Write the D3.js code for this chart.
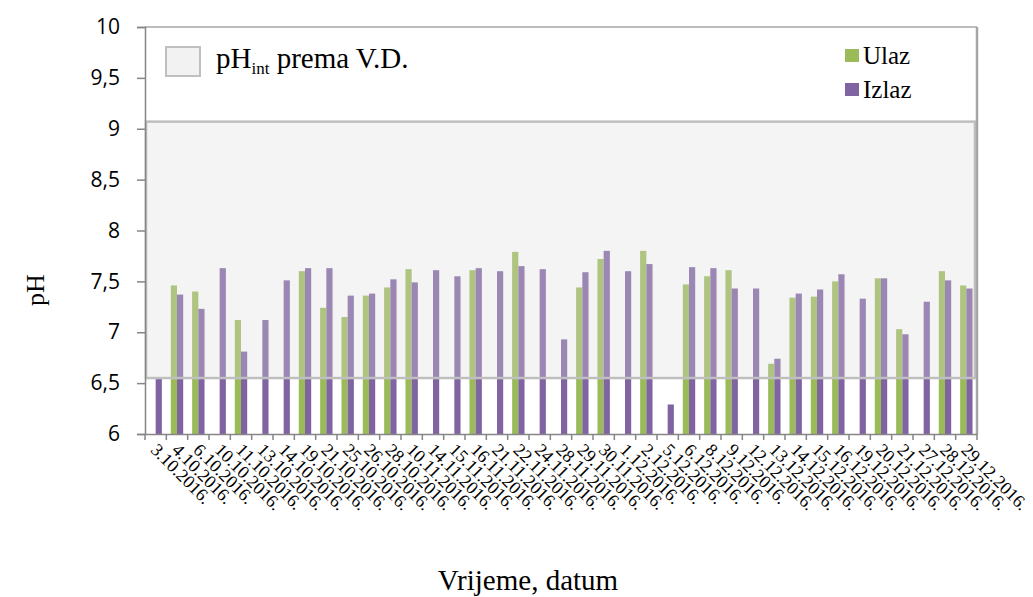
<!DOCTYPE html>
<html><head><meta charset="utf-8">
<script src="https://cdn.jsdelivr.net/npm/d3@7/dist/d3.min.js"></script>
<style>body{margin:0;background:#fff}</style>
</head><body><svg id="c" width="1033" height="597"></svg>
<script>
const categories = ["3.10.2016.","4.10.2016.","6.10.2016.","10.10.2016.","11.10.2016.","13.10.2016.","14.10.2016.","19.10.2016.","21.10.2016.","25.10.2016.","26.10.2016.","28.10.2016.","10.11.2016.","14.11.2016.","15.11.2016.","16.11.2016.","21.11.2016.","22.11.2016.","24.11.2016.","28.11.2016.","29.11.2016.","30.11.2016.","1.12.2016.","2.12.2016.","5.12.2016.","6.12.2016.","8.12.2016.","9.12.2016.","12.12.2016.","13.12.2016.","14.12.2016.","15.12.2016.","16.12.2016.","19.12.2016.","20.12.2016.","21.12.2016.","27.12.2016.","28.12.2016.","29.12.2016."];
const ulaz = [null,7.46,7.40,null,7.12,null,null,7.60,7.24,7.15,7.36,7.44,7.62,null,null,7.61,null,7.79,null,null,7.44,7.72,null,7.80,null,7.47,7.55,7.61,null,6.69,7.34,7.35,7.50,null,7.53,7.03,null,7.60,7.46];
const izlaz = [6.56,7.37,7.23,7.63,6.81,7.12,7.51,7.63,7.63,7.36,7.38,7.52,7.49,7.61,7.55,7.63,7.60,7.65,7.62,6.93,7.59,7.80,7.60,7.67,6.29,7.64,7.63,7.43,7.43,6.74,7.38,7.42,7.57,7.33,7.53,6.98,7.30,7.51,7.43];
const band = [6.55, 9.07];
const yTicks = [6,6.5,7,7.5,8,8.5,9,9.5,10];
const seriesNames = ["Ulaz","Izlaz"];
const colors = ["#9BBB59","#8064A2"];

const svg = d3.select("#c");
const L=145, R=977, T=27, B=434;
const x = d3.scaleBand().domain(categories).range([L,R]).paddingInner(0).paddingOuter(0);
const y = d3.scaleLinear().domain([6,10]).range([B,T]);
const bw = 6.2;

const g = svg.append("g");
[ulaz, izlaz].forEach((arr, si) => {
  g.selectAll(null).data(arr.map((v,i)=>({v,c:categories[i]})).filter(d=>d.v!=null))
   .enter().append("rect")
   .attr("x", d => x(d.c) + x.bandwidth()/2 - bw + si*bw)
   .attr("width", bw)
   .attr("y", d => y(d.v))
   .attr("height", d => y(6) - y(d.v))
   .attr("fill", colors[si]);
});

// band overlay
svg.append("rect")
  .attr("x", L+1).attr("width", R-L-3)
  .attr("y", y(band[1])).attr("height", y(band[0]) - y(band[1]))
  .attr("fill", "#dadada").attr("fill-opacity", 0.3)
  .attr("stroke", "#bfbfbf").attr("stroke-width", 2.5);

// plot border top/right
svg.append("line").attr("x1",L).attr("x2",R).attr("y1",T).attr("y2",T).attr("stroke","#a6a6a6").attr("stroke-width",1.5);
svg.append("line").attr("x1",R).attr("x2",R).attr("y1",T).attr("y2",B).attr("stroke","#a6a6a6").attr("stroke-width",2.5);

// y axis
const ya = svg.append("g").attr("transform",`translate(${L},0)`)
  .call(d3.axisLeft(y).tickValues(yTicks).tickSize(8).tickPadding(17)
    .tickFormat(d => String(d).replace(".",",")));
ya.select(".domain").attr("stroke","#868686").attr("stroke-width",1.5);
ya.selectAll(".tick line").attr("stroke","#868686").attr("stroke-width",1.5);
ya.selectAll("text").attr("font-family","'Open Sans', 'Noto Sans', sans-serif").attr("font-size",21).attr("fill","#000");

// x axis
const xa = svg.append("g").attr("transform",`translate(0,${B})`)
  .call(d3.axisBottom(x).tickSize(0).tickFormat(""));
xa.select(".domain").attr("stroke","#868686").attr("stroke-width",1.5);
xa.selectAll(null).data(d3.range(categories.length+1)).enter().append("line")
  .attr("x1", i => L + i*x.step()).attr("x2", i => L + i*x.step())
  .attr("y1",0).attr("y2",6).attr("stroke","#868686").attr("stroke-width",1.5);
svg.append("g").selectAll("text").data(categories).enter().append("text")
  .attr("transform", d => `translate(${x(d)+x.bandwidth()/2-6},${B+17}) rotate(45)`)
  .attr("font-family","'Liberation Serif', 'Times New Roman', serif")
  .attr("font-size",18).attr("fill","#000")
  .text(d => d);

// axis titles
svg.append("text").attr("transform","translate(44,290) rotate(-90)")
  .attr("text-anchor","middle").attr("font-family","'Liberation Serif', serif")
  .attr("font-size",26).text("pH");
svg.append("text").attr("x",528).attr("y",590)
  .attr("text-anchor","middle").attr("font-family","'Liberation Serif', serif")
  .attr("font-size",29).text("Vrijeme, datum");

// legend left
svg.append("rect").attr("x",166).attr("y",47).attr("width",34).attr("height",29)
  .attr("fill","#f2f2f2").attr("stroke","#bfbfbf").attr("stroke-width",2);
const lt = svg.append("text").attr("x",216).attr("y",68)
  .attr("font-family","'Liberation Serif', serif").attr("font-size",29);
lt.append("tspan").text("pH");
lt.append("tspan").attr("font-size",17).attr("dy",6).text("int");
lt.append("tspan").attr("dy",-6).text(" prema V.D.");

// legend right
seriesNames.forEach((n,i) => {
  svg.append("rect").attr("x",845).attr("y",49+i*34).attr("width",14).attr("height",13).attr("fill",colors[i]);
  svg.append("text").attr("x",863).attr("y",64+i*34)
    .attr("font-family","'Liberation Serif', serif").attr("font-size",25).text(n);
});
</script>
</body></html>
